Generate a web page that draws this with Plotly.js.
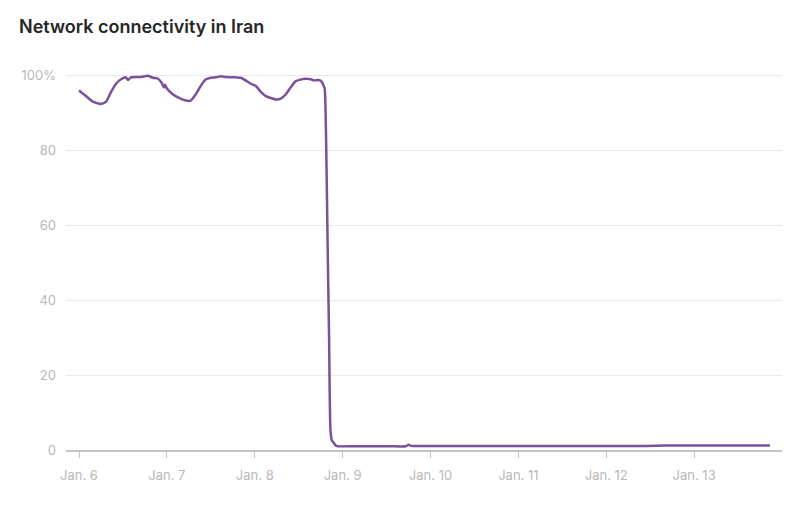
<!DOCTYPE html>
<html>
<head>
<meta charset="utf-8">
<script src="https://cdn.plot.ly/plotly-3.0.1.min.js"></script>
<style>html,body{margin:0;padding:0;background:#fff}#chart{width:792px;height:519px}</style>
</head>
<body>
<div id="chart"></div>
<script>
// Hours after Jan. 6, 00:00 and connectivity (% of normal)
const hoursFromJan6 = [0,1.9,3.8,6,7.4,8.7,10.1,11.5,12.8,13.4,14.2,16.9,18.8,20.2,21.5,22.6,23.2,23.5,24,25.6,27.3,29.2,30.5,31.9,33.3,34.6,36,37.4,38.7,40.1,42.8,44.2,45.5,46.9,48.3,49.6,51,52.4,53.7,55.1,56.5,57.8,59.2,60.5,61.9,63.3,64.1,65.5,66.3,66.8,67.1,67.5,67.9,68.3,68.7,69.1,69.5,70.1,70.6,75,80,85,89.2,90,90.8,96,105,115,125,135,145,155,160,165,175,185,188.7];
const connectivity = [96,94.5,93,92.4,93,95.5,97.8,99,99.5,98.8,99.5,99.6,99.9,99.4,99.2,98,96.8,97.5,96.5,95,94,93.3,93.3,95,97.3,98.9,99.4,99.5,99.8,99.6,99.5,99.4,98.7,97.8,97.2,95.7,94.5,94,93.6,93.8,95,96.8,98.5,98.9,99.1,99,98.7,98.8,98.3,97.3,96.5,82,55,30,5,2.5,2,1.2,1,1,1,1,1,1.4,1.1,1.1,1.1,1.1,1.1,1.1,1.1,1.1,1.2,1.2,1.2,1.2,1.2];
const yTickVals = [0,20,40,60,80,100];
const yTickText = ['0','20','40','60','80','100%'];
const xTickLabels = ['Jan. 6','Jan. 7','Jan. 8','Jan. 9','Jan. 10','Jan. 11','Jan. 12','Jan. 13'];
const xTickDates = ['2026-01-06','2026-01-07','2026-01-08','2026-01-09','2026-01-10','2026-01-11','2026-01-12','2026-01-13'];

const base = Date.UTC(2026,0,6);
function toStamp(h){
  const d = new Date(base + h*3600000);
  return d.toISOString().replace('T',' ').slice(0,19);
}
const xs = hoursFromJan6.map(toStamp);

const trace = {
  x: xs, y: connectivity, type:'scatter', mode:'lines',
  line:{color:'#7a519b', width:2.5, shape:'spline', smoothing:0.6},
  hoverinfo:'skip'
};
const layout = {
  width:792, height:519,
  margin:{l:66, r:10, t:67.5, b:69},
  paper_bgcolor:'#fff', plot_bgcolor:'#fff',
  showlegend:false,
  title:{text:'Network connectivity in Iran', x:19/792, xanchor:'left', xref:'container', y:1-27/519, yanchor:'middle', yref:'container',
         font:{family:'Inter, Noto Sans, sans-serif', size:18, color:'#262626', weight:600}},
  xaxis:{type:'date', range:[toStamp(-3.55), toStamp(192)], tickvals:xTickDates, ticktext:xTickLabels,
         showgrid:false, zeroline:false, showline:true, linecolor:'#c4c4c4', linewidth:2,
         ticks:'outside', ticklen:6, tickcolor:'#c4c4c4', tickwidth:1,
         tickfont:{family:'Inter, Noto Sans, sans-serif', size:13, color:'#b8b8b8'}, ticklabelstandoff:6},
  yaxis:{range:[0,102], tickvals:yTickVals, ticktext:yTickText, showgrid:true, gridcolor:'#e9e9e9', gridwidth:1,
         zeroline:false, showline:false, ticks:'', ticklabelstandoff:9,
         tickfont:{family:'Inter, Noto Sans, sans-serif', size:13, color:'#b8b8b8'}}
};
Plotly.newPlot('chart',[trace],layout,{displayModeBar:false, staticPlot:true});
</script>
</body>
</html>
